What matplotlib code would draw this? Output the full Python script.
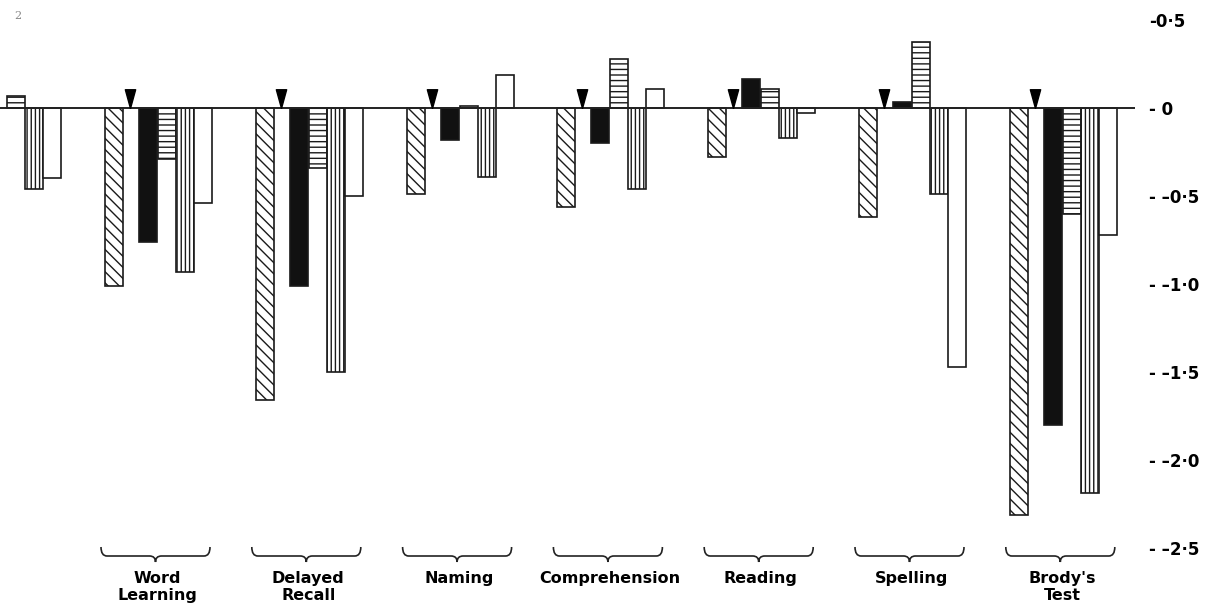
import numpy as np
import matplotlib
matplotlib.use("Agg")
import matplotlib.pyplot as plt
from matplotlib.path import Path
from matplotlib.patches import PathPatch

# Group 0 is the cut-off group at the left edge of the scan
tests = ["", "Word\nLearning", "Delayed\nRecall", "Naming", "Comprehension",
         "Reading", "Spelling", "Brody's\nTest"]

diag = [np.nan, -1.01, -1.66, -0.49, -0.56, -0.28, -0.62, -2.31]
black = [np.nan, -0.76, -1.01, -0.18, -0.20, 0.165, 0.035, -1.80]
horiz = [0.07, -0.29, -0.34, 0.01, 0.28, 0.11, 0.375, -0.60]
vert = [-0.46, -0.93, -1.50, -0.39, -0.46, -0.17, -0.49, -2.19]
white = [-0.40, -0.54, -0.50, 0.19, 0.11, -0.03, -1.47, -0.72]

ytick_vals = [0.5, 0.0, -0.5, -1.0, -1.5, -2.0, -2.5]
ytick_text = ["-0·5", "- 0", "- –0·5", "- –1·0", "- –1·5", "- –2·0", "- –2·5"]

plt.rcParams['hatch.color'] = 'black'
plt.rcParams['hatch.linewidth'] = 1.0

fig = plt.figure(figsize=(12.06, 6.14), dpi=100)
ax = fig.add_axes([0, 0, 1135 / 1206, 1])

# slot layout inside a group (group units, 1 group = 150.8 px)
gw = 150.8
width = 18 / gw
offs = np.array([0, 34, 53, 71, 89]) / gw
arrow_off = 25 / gw

x = np.arange(len(tests))
series = [diag, black, horiz, vert, white]
styles = [dict(facecolor='white', hatch='\\\\\\'),
          dict(facecolor='#111111'),
          dict(facecolor='white', hatch='---'),
          dict(facecolor='white', hatch='||||'),
          dict(facecolor='white')]

for vals, off, st in zip(series, offs, styles):
    ax.bar(x + off, vals, width=width, align='edge', edgecolor='#1a1a1a',
           linewidth=1.2, zorder=2, **st)

ax.axhline(0, color='#222222', lw=1.4, zorder=3)

# arrow heads at zero, tip at origin of marker path
tri = [(0, 0), (-0.55, 2), (0.55, 2), (0, 0)]
ax.plot(x[1:] + arrow_off, np.zeros(len(x) - 1), ls='none', marker=tri,
        ms=27, color='black', zorder=4)

# braces and test names
ppu = 176.0  # px per unit on y


def ypx(p):
    return -(p - 108) / ppu


for i in x[1:]:
    x0 = i - 4 / gw
    x1 = i + offs[-1] + width - 2 / gw
    xc = (x0 + x1) / 2
    r = 6 / gw
    yt, yl, yb = ypx(547), ypx(556), ypx(562)
    verts = [(x0, yt), (x0, yl), (x0 + r, yl),
             (xc - r, yl),
             (xc, yl), (xc, yb),
             (xc, yl), (xc + r, yl),
             (x1 - r, yl),
             (x1, yl), (x1, yt)]
    codes = [Path.MOVETO, Path.CURVE3, Path.CURVE3,
             Path.LINETO,
             Path.CURVE3, Path.CURVE3,
             Path.CURVE3, Path.CURVE3,
             Path.LINETO,
             Path.CURVE3, Path.CURVE3]
    ax.add_patch(PathPatch(Path(verts, codes), fill=False, lw=1.2,
                           edgecolor='#222222', clip_on=False))
    ax.text(xc + 2 / gw, ypx(571), tests[i], ha='center', va='top',
            fontsize=11.5, fontweight='bold', linespacing=1.15)

ax.set_xlim(1 - 105 / gw, 1 + 1030 / gw)
ax.set_ylim(ypx(614), ypx(0))

ax.yaxis.tick_right()
ax.set_yticks(ytick_vals)
ax.set_yticklabels(ytick_text, fontweight='bold', fontsize=12)
ax.tick_params(axis='y', length=0, pad=10)
ax.set_xticks([])
for s in ax.spines.values():
    s.set_visible(False)

fig.text(14 / 1206, 1 - 16 / 614, "2", color='#888888', fontsize=8,
         family='serif', va='center')

fig.savefig("out.png", dpi=100, facecolor='white')
